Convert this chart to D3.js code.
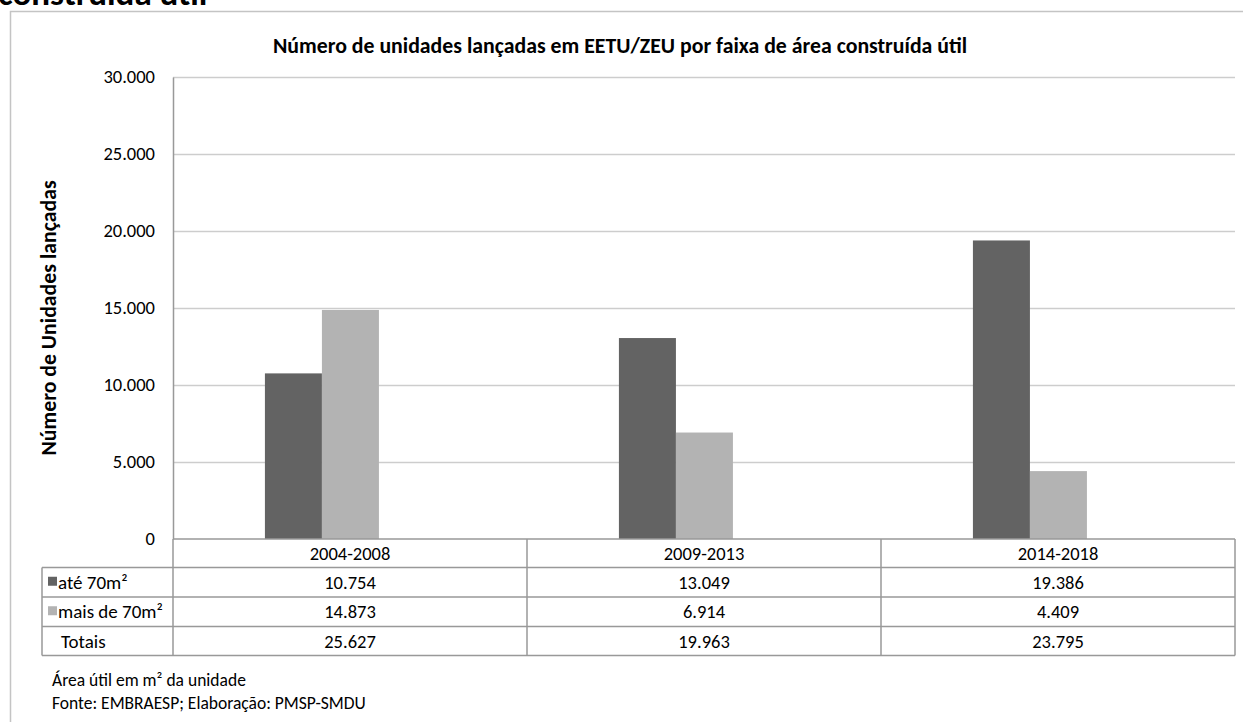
<!DOCTYPE html>
<html>
<head>
<meta charset="utf-8">
<script src="https://cdn.jsdelivr.net/npm/d3@7"></script>
<style>
  body { margin: 0; background: #fff; }
  text { font-family: Carlito, Lato, "Open Sans", sans-serif; fill: #000; }
</style>
</head>
<body>
<div id="chart"></div>
<script>
let categories = ["2004-2008", "2009-2013", "2014-2018"];
let series_names = ["até 70m²", "mais de 70m²"];
let series_colors = ["#636363", "#b3b3b3"];
let values_ate70 = [10754, 13049, 19386];
let values_mais70 = [14873, 6914, 4409];
let y_ticks = [0, 5000, 10000, 15000, 20000, 25000, 30000];

let width = 1243, height = 722;
let margin = {top: 77, left: 173, right: 8, zero: 539};
let row_height = [28.5, 29.5, 29.5, 29];
let num_size = 18.5;

let svg = d3.select("#chart").append("svg")
    .attr("width", width)
    .attr("height", height);

// cut-off page heading above the frame
svg.append("text")
    .attr("x", -2).attr("y", 5)
    .attr("font-size", 35).attr("font-weight", "bold")
    .text("construída útil");

// outer frame (right / bottom fall outside the picture)
svg.append("path")
    .attr("d", "M10.5," + height + "V11.5H" + width)
    .attr("fill", "none").attr("stroke", "#c4c4c4").attr("stroke-width", 1.5);

svg.append("text")
    .attr("x", 620).attr("y", 53)
    .attr("text-anchor", "middle")
    .attr("font-size", 21.8).attr("font-weight", "bold")
    .text("Número de unidades lançadas em EETU/ZEU por faixa de área construída útil");

let x_scale = d3.scaleBand()
    .domain(categories)
    .range([margin.left, width - margin.right]);

// the bar pairs sit a little left of each column's centre
let x_inner = d3.scaleBand()
    .domain(series_names)
    .range([0, x_scale.bandwidth()])
    .paddingOuter(2.105)
    .align(0.383);

let y_scale = d3.scaleLinear()
    .domain([0, 30000])
    .range([margin.zero, margin.top]);

let fmt = d3.formatLocale({decimal: ",", thousands: ".", grouping: [3], currency: ["", ""]}).format(",d");

// gridlines
svg.append("g").selectAll("line")
    .data(y_ticks.slice(1))
    .join("line")
    .attr("x1", margin.left).attr("x2", width - margin.right)
    .attr("y1", d => Math.round(y_scale(d)) + 0.5)
    .attr("y2", d => Math.round(y_scale(d)) + 0.5)
    .attr("stroke", "#cdcdcd").attr("stroke-width", 1.5);

// y axis
let y_axis = d3.axisLeft(y_scale).tickValues(y_ticks).tickSize(0).tickPadding(18).tickFormat(fmt);
let g_y = svg.append("g")
    .attr("transform", "translate(" + margin.left + ",0)")
    .call(y_axis);
g_y.select(".domain").attr("stroke", "#999").attr("stroke-width", 1.5);
g_y.selectAll("text").attr("font-size", num_size).attr("font-family", "Carlito, Lato, sans-serif").attr("fill", "#000");

svg.append("text")
    .attr("transform", "translate(56,318) rotate(-90)")
    .attr("text-anchor", "middle")
    .attr("font-size", 21.8).attr("font-weight", "bold")
    .text("Número de Unidades lançadas");

// bars
let bar_data = [];
categories.forEach((cat, i) => {
    bar_data.push({cat: cat, s: 0, v: values_ate70[i]});
    bar_data.push({cat: cat, s: 1, v: values_mais70[i]});
});

svg.append("g").selectAll("rect")
    .data(bar_data)
    .join("rect")
    .attr("x", d => x_scale(d.cat) + x_inner(series_names[d.s]))
    .attr("y", d => y_scale(d.v))
    .attr("width", x_inner.bandwidth())
    .attr("height", d => margin.zero - y_scale(d.v))
    .attr("fill", d => series_colors[d.s]);

// data table
let table_left = 42;
let row_top = [margin.zero];
row_height.forEach((h, i) => row_top.push(row_top[i] + h));
let totals = categories.map((c, i) => values_ate70[i] + values_mais70[i]);
let table_rows = [values_ate70, values_mais70, totals];
let row_labels = [series_names[0], series_names[1], "Totais"];

let g_t = svg.append("g");
let line_col = "#999";
// horizontal lines
row_top.forEach((y, i) => {
    g_t.append("line")
        .attr("x1", i === 0 ? margin.left : table_left).attr("x2", width - margin.right)
        .attr("y1", y).attr("y2", y)
        .attr("stroke", line_col).attr("stroke-width", 1.5);
});
// vertical lines
let col_x = categories.map(c => x_scale(c)).concat([width - margin.right]);
col_x.forEach(x => {
    g_t.append("line")
        .attr("x1", x).attr("x2", x)
        .attr("y1", row_top[0]).attr("y2", row_top[4])
        .attr("stroke", line_col).attr("stroke-width", 1.5);
});
g_t.append("line")
    .attr("x1", table_left).attr("x2", table_left)
    .attr("y1", row_top[1]).attr("y2", row_top[4])
    .attr("stroke", line_col).attr("stroke-width", 1.5);

// header labels
g_t.selectAll(".cat")
    .data(categories)
    .join("text")
    .attr("x", d => x_scale(d) + x_scale.bandwidth() / 2)
    .attr("y", row_top[0] + row_height[0] / 2 + 6.5)
    .attr("text-anchor", "middle").attr("font-size", num_size)
    .text(d => d);

table_rows.forEach((vals, r) => {
    let yc = row_top[r + 1] + row_height[r + 1] / 2 + 6.5;
    g_t.selectAll(".row" + r)
        .data(vals)
        .join("text")
        .attr("x", (d, i) => x_scale(categories[i]) + x_scale.bandwidth() / 2)
        .attr("y", yc)
        .attr("text-anchor", "middle").attr("font-size", num_size)
        .text(d => fmt(d));
    if (r < 2) {
        g_t.append("rect")
            .attr("x", 48).attr("y", yc - 12)
            .attr("width", 9).attr("height", 9)
            .attr("fill", series_colors[r]);
        g_t.append("text")
            .attr("x", 58).attr("y", yc)
            .attr("font-size", 19)
            .text(row_labels[r]);
    } else {
        g_t.append("text")
            .attr("x", 61).attr("y", yc)
            .attr("font-size", 19)
            .text(row_labels[r]);
    }
});

// footer notes
svg.append("text").attr("x", 52).attr("y", 686).attr("font-size", 17.5)
    .text("Área útil em m² da unidade");
svg.append("text").attr("x", 52).attr("y", 709).attr("font-size", 17.5)
    .text("Fonte: EMBRAESP; Elaboração: PMSP-SMDU");
</script>
</body>
</html>
